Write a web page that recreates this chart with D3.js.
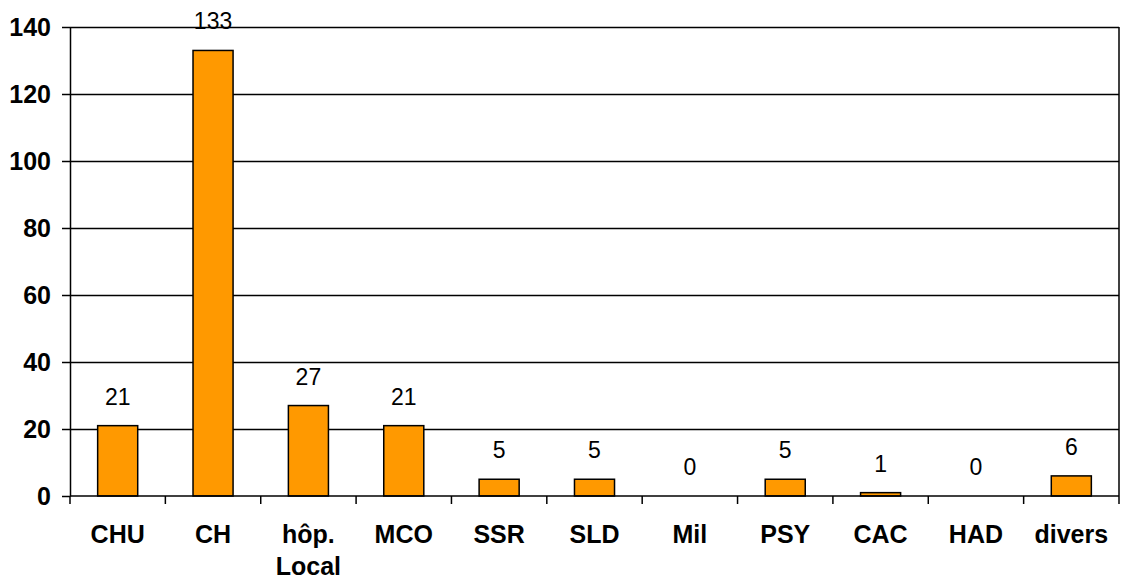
<!DOCTYPE html>
<html>
<head>
<meta charset="utf-8">
<style>
  body { margin: 0; background: #fff; }
  svg text { font-family: Arial, "Liberation Sans", sans-serif; }
  .axis path, .axis line { stroke: #000; stroke-width: 1.5; }
  .axis text { font-size: 25px; font-weight: bold; fill: #000; }
  .grid line { stroke: #000; stroke-width: 1.5; }
  .grid path { display: none; }
</style>
</head>
<body>
<div class="chart"></div>
<script src="https://d3js.org/d3.v7.min.js"></script>
<script>
  // data
  const categories = ["CHU", "CH", "hôp.\nLocal", "MCO", "SSR", "SLD", "Mil", "PSY", "CAC", "HAD", "divers"];
  const values = [21, 133, 27, 21, 5, 5, 0, 5, 1, 0, 6];
  const yTicks = [0, 20, 40, 60, 80, 100, 120, 140];

  const width = 1123, height = 580;
  const margin = {top: 27, right: 4, bottom: 84, left: 70};

  const svg = d3.select(".chart")
    .append("svg")
    .attr("width", width)
    .attr("height", height);

  const g = svg.append("g")
    .attr("transform", `translate(${margin.left}, ${margin.top})`);

  const w = width - margin.left - margin.right;
  const h = height - margin.top - margin.bottom;

  const x = d3.scaleBand()
    .domain(categories)
    .range([0, w])
    .paddingInner(0.58)
    .paddingOuter(0.29);

  const y = d3.scaleLinear()
    .domain([0, 140])
    .range([h, 0]);

  // grid lines
  g.append("g")
    .attr("class", "grid")
    .call(d3.axisLeft(y).tickValues(yTicks.slice(1)).tickSize(-w).tickFormat(""));

  // right border
  g.append("line")
    .attr("x1", w).attr("x2", w)
    .attr("y1", 0).attr("y2", h)
    .attr("stroke", "#000")
    .attr("stroke-width", 1.5);

  // bars
  g.selectAll("rect.bar")
    .data(values)
    .join("rect")
    .attr("class", "bar")
    .attr("x", (d, i) => x(categories[i]))
    .attr("y", d => y(d))
    .attr("width", x.bandwidth())
    .attr("height", d => h - y(d))
    .attr("fill", "#FF9900")
    .attr("stroke", "#000")
    .attr("stroke-width", 1.5);

  // value labels
  g.selectAll("text.val")
    .data(values)
    .join("text")
    .attr("class", "val")
    .attr("x", (d, i) => x(categories[i]) + x.bandwidth() / 2)
    .attr("y", d => y(d) - 21)
    .attr("text-anchor", "middle")
    .attr("font-size", 23)
    .attr("fill", "#000")
    .text(d => d);

  // y axis
  g.append("g")
    .attr("class", "axis")
    .call(d3.axisLeft(y).tickValues(yTicks).tickSize(8).tickPadding(11).tickSizeOuter(0));

  // x axis: ticks at band boundaries
  const bounds = d3.range(categories.length + 1).map(i => i * w / categories.length);
  const xb = g.append("g")
    .attr("class", "axis")
    .attr("transform", `translate(0, ${h})`);

  xb.append("line")
    .attr("x1", 0).attr("x2", w)
    .attr("y1", 0).attr("y2", 0);

  xb.selectAll("line.tk")
    .data(bounds)
    .join("line")
    .attr("class", "tk")
    .attr("x1", d => d).attr("x2", d => d)
    .attr("y1", 0).attr("y2", 8);

  const lbl = xb.selectAll("text.cat")
    .data(categories)
    .join("text")
    .attr("class", "cat")
    .attr("x", d => x(d) + x.bandwidth() / 2)
    .attr("y", 47)
    .attr("text-anchor", "middle");

  lbl.selectAll("tspan")
    .data(d => d.split("\n"))
    .join("tspan")
    .attr("x", function() { return this.parentNode.getAttribute("x"); })
    .attr("dy", (d, i) => i === 0 ? 0 : 32)
    .text(d => d);
</script>
</body>
</html>
